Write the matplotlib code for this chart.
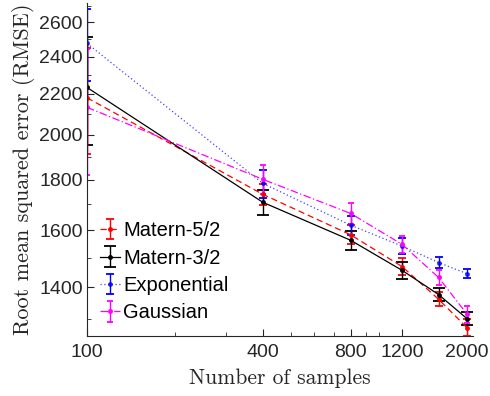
import matplotlib
matplotlib.use("Agg")
import matplotlib.pyplot as plt
from matplotlib.ticker import FixedLocator, NullFormatter, FixedFormatter

# Number of training samples
samples = [100, 400, 800, 1200, 1600, 2000]

# RMSE mean and error-bar half-width per kernel
matern52_mean = [2180, 1740, 1583, 1470, 1362, 1275]
matern52_err = [270, 42, 35, 28, 22, 25]

matern32_mean = [2233, 1708, 1563, 1457, 1377, 1302]
matern32_err = [280, 50, 34, 28, 22, 20]

exponential_mean = [2475, 1785, 1619, 1542, 1484, 1446]
exponential_err = [210, 58, 35, 30, 18, 14]

gaussian_mean = [2132, 1802, 1664, 1548, 1433, 1316]
gaussian_err = [310, 60, 40, 30, 25, 26]

labels = ["Matern-5/2", "Matern-3/2", "Exponential", "Gaussian"]

x_major = [100, 400, 800, 1200, 2000]
x_minor = [200, 300, 500, 600, 700, 900, 1000]
y_major = [1400, 1600, 1800, 2000, 2200, 2400, 2600]
y_minor = [1300, 1500, 1700, 1900, 2100, 2300, 2500, 2700]

fig = plt.figure(figsize=(4.9, 3.96), dpi=100)
ax = fig.add_axes([0.1776, 0.1515, 0.7878, 0.841])
ax.set_xscale("log")
ax.set_yscale("log")

series = [
    (matern52_mean, matern52_err, "#ff0000", (0, (5, 3)), 3.2),
    (matern32_mean, matern32_err, "#000000", "-", 4.6),
    (exponential_mean, exponential_err, "#0000ff", (0, (1, 2)), 2.6),
    (gaussian_mean, gaussian_err, "#ff00ff", (0, (6, 2, 1, 2)), 2.0),
]

for (mean, err, color, ls, cap), label in zip(series, labels):
    eb = ax.errorbar(samples, mean, yerr=err, color=color, linestyle=ls,
                     linewidth=0.9, marker=".", markersize=5,
                     capsize=cap, capthick=1.3, elinewidth=1.0,
                     label=label)
    if color == "#0000ff":
        eb[0].set_alpha(0.75)

ax.set_xlim(100, 2100)
ax.set_ylim(1250, 2720)

ax.xaxis.set_major_locator(FixedLocator(x_major))
ax.xaxis.set_major_formatter(FixedFormatter([str(v) for v in x_major]))
ax.xaxis.set_minor_locator(FixedLocator(x_minor))
ax.xaxis.set_minor_formatter(NullFormatter())
ax.yaxis.set_major_locator(FixedLocator(y_major))
ax.yaxis.set_major_formatter(FixedFormatter([str(v) for v in y_major]))
ax.yaxis.set_minor_locator(FixedLocator(y_minor))
ax.yaxis.set_minor_formatter(NullFormatter())

tick_font = "Liberation Sans"
for lab in ax.get_xticklabels() + ax.get_yticklabels():
    lab.set_fontfamily(tick_font)
    lab.set_fontsize(14)
    lab.set_color("#262626")

ax.tick_params(which="both", direction="in", color="#262626")
ax.tick_params(which="major", length=5, width=0.8)
ax.tick_params(which="minor", length=3, width=0.6)
ax.tick_params(axis="x", pad=6)
ax.tick_params(axis="y", pad=3)

for side in ["top", "right"]:
    ax.spines[side].set_visible(False)
for side in ["left", "bottom"]:
    ax.spines[side].set_color("#262626")
    ax.spines[side].set_linewidth(0.8)

ax.set_xlabel("Number of samples", fontfamily="cmr10", fontsize=15.5,
              color="#262626", labelpad=5)
ax.set_ylabel("Root mean squared error (RMSE)", fontfamily="cmr10",
              fontsize=16, color="#262626", labelpad=3)

leg = ax.legend(loc="upper left", bbox_to_anchor=(0.034, 0.345), frameon=False,
                prop={"family": tick_font, "size": 14.5}, handlelength=1.0,
                handletextpad=0.15, labelspacing=0.42, borderaxespad=0.0,
                borderpad=0.0)

fig.savefig("out.png", dpi=100)
